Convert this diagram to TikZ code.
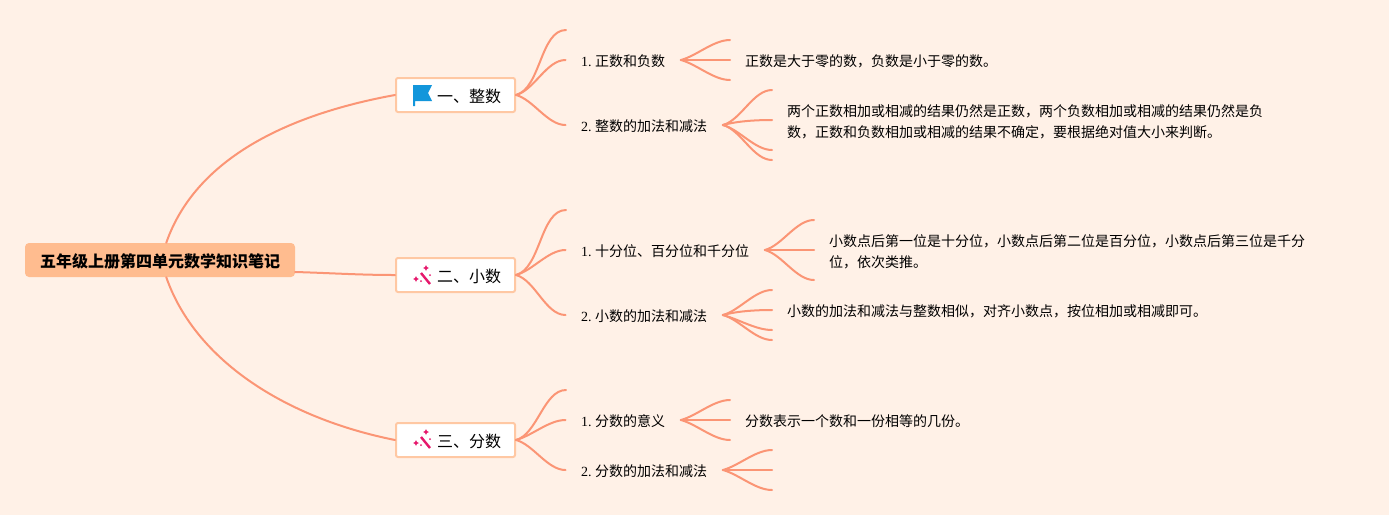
\documentclass[tikz,border=0pt]{standalone}
\usepackage{fontspec}
\setmainfont{Liberation Serif}
\newfontfamily\cjk{Noto Sans CJK SC}
\definecolor{paper}{HTML}{FFF1E7}
\definecolor{twig}{HTML}{FB9575}
\definecolor{rootfill}{HTML}{FFBC8F}
\definecolor{boxline}{HTML}{FFC8A3}
\definecolor{flagblue}{HTML}{1296DB}
\definecolor{wandpink}{HTML}{E6186C}
\tikzset{
	rootbox/.style={fill=rootfill,rounded corners=4pt,minimum width=270pt,minimum height=34pt,inner sep=0pt,text height=15pt,text depth=1pt,font=\cjk\fontsize{16}{20}\selectfont\bfseries},
	branchbox/.style={draw=boxline,line width=2pt,fill=white,rounded corners=2pt,minimum width=119pt,minimum height=34pt,inner sep=0pt,text height=15pt,text depth=1pt,font=\cjk\fontsize{16}{20}\selectfont},
	topic/.style={anchor=west,inner xsep=15.5pt,inner ysep=2pt,text height=14.5pt,text depth=1.5pt,font=\fontsize{14}{18}\selectfont},
	detail/.style={anchor=west,inner xsep=15pt,inner ysep=2pt,align=left,font=\cjk\fontsize{14}{21}\selectfont},
	limb/.style={draw=twig,line width=2pt,line cap=round},
	limbup/.style={out=15,in=180,looseness=0.8},
	limbdown/.style={out=-15,in=180,looseness=0.8},
	flagicon/.pic={\fill[flagblue] (-10,-10) -- (9,-10) -- (5,-2) -- (9,6) -- (-8,6) -- (-8,11) -- (-10,11) -- cycle;},
	wandicon/.pic={
		\draw[wandpink,line width=2.4pt] (-3,-3) -- (6,8);
		\fill[wandpink] (2,-11) -- (2.9,-9) -- (5,-8) -- (2.9,-7) -- (2,-5) -- (1.1,-7) -- (-1,-8) -- (1.1,-9) -- cycle;
		\fill[wandpink] (-8,0) -- (-7.1,2) -- (-5,3) -- (-7.1,4) -- (-8,6) -- (-8.9,4) -- (-11,3) -- (-8.9,2) -- cycle;
		\fill[wandpink] (6,-1) circle (1);
		\fill[wandpink] (-3,5) circle (1);
	}
}
\begin{document}
\begin{tikzpicture}[x=1pt,y=-1pt]
	\fill[paper] (0,0) rectangle (1389,515);
	\useasboundingbox (0,0) rectangle (1389,515);

	\node[rootbox] (root) at (160,260) {五年级上册第四单元数学知识笔记};

	\node[branchbox] (zheng) at (455.5,95) {\hspace{27pt}一、整数};
	\node[branchbox] (xiao) at (455.5,275) {\hspace{27pt}二、小数};
	\node[branchbox] (fen) at (455.5,440) {\hspace{27pt}三、分数};
	\pic at (423,95) {flagicon};
	\pic at (424,276) {wandicon};
	\pic at (424,440) {wandicon};

	\draw[limb] (root.70) .. controls (195,160) and (285,115) .. (zheng.west);
	\draw[limb] (root.east |- 0,272) .. controls (330,273) and (360,275) .. (xiao.west);
	\draw[limb] (root.-70) .. controls (195,360) and (285,418) .. (fen.west);

	% first branch
	\node[topic] (zheng1) at (565.5,60) {1.\hspace{3.5pt}{\cjk 正数和负数}};
	\node[topic] (zheng2) at (565.5,125) {2.\hspace{3.5pt}{\cjk 整数的加法和减法}};
	\node[detail] (zheng1d) at (730,61) {正数是大于零的数，负数是小于零的数。};
	\node[detail] (zheng2d) at (772,122) {两个正数相加或相减的结果仍然是正数，两个负数相加或相减的结果仍然是负\\数，正数和负数相加或相减的结果不确定，要根据绝对值大小来判断。};
	\coordinate (zheng0) at (566,30);
	\coordinate (zheng1a) at (730,40);
	\coordinate (zheng1b) at (730,80);
	\coordinate (zheng2a) at (772,90);
	\coordinate (zheng2b) at (772,150);
	\coordinate (zheng2c) at (772,160);
	\draw[limb] (zheng.east) to[limbup] (zheng0);
	\draw[limb] (zheng.east) to[limbup] (zheng1.west);
	\draw[limb] (zheng.east) to[limbdown] (zheng2.west);
	\draw[limb] (zheng1.east) to[limbup] (zheng1a);
	\draw[limb] (zheng1.east) -- ([yshift=1pt]zheng1d.west);
	\draw[limb] (zheng1.east) to[limbdown] (zheng1b);
	\draw[limb] (zheng2.east) to[limbup] (zheng2a);
	\draw[limb] (zheng2.east) to[limbup] ([yshift=2pt]zheng2d.west);
	\draw[limb] (zheng2.east) to[limbdown] (zheng2b);
	\draw[limb] (zheng2.east) to[limbdown] (zheng2c);

	% second branch
	\node[topic] (xiao1) at (565.5,250) {1.\hspace{3.5pt}{\cjk 十分位、百分位和千分位}};
	\node[topic] (xiao2) at (565.5,315) {2.\hspace{3.5pt}{\cjk 小数的加法和减法}};
	\node[detail] (xiao1d) at (814,252) {小数点后第一位是十分位，小数点后第二位是百分位，小数点后第三位是千分\\位，依次类推。};
	\node[detail] (xiao2d) at (772,311) {小数的加法和减法与整数相似，对齐小数点，按位相加或相减即可。};
	\coordinate (xiao0) at (566,210);
	\coordinate (xiao1a) at (814,220);
	\coordinate (xiao1b) at (814,280);
	\coordinate (xiao2a) at (772,290);
	\coordinate (xiao2b) at (772,330);
	\coordinate (xiao2c) at (772,340);
	\draw[limb] (xiao.east) to[limbup] (xiao0);
	\draw[limb] (xiao.east) to[limbup] (xiao1.west);
	\draw[limb] (xiao.east) to[limbdown] (xiao2.west);
	\draw[limb] (xiao1.east) to[limbup] (xiao1a);
	\draw[limb] (xiao1.east) -- ([yshift=2pt]xiao1d.west);
	\draw[limb] (xiao1.east) to[limbdown] (xiao1b);
	\draw[limb] (xiao2.east) to[limbup] (xiao2a);
	\draw[limb] (xiao2.east) to[limbup] ([yshift=1pt]xiao2d.west);
	\draw[limb] (xiao2.east) to[limbdown] (xiao2b);
	\draw[limb] (xiao2.east) to[limbdown] (xiao2c);

	% third branch
	\node[topic] (fen1) at (565.5,420) {1.\hspace{3.5pt}{\cjk 分数的意义}};
	\node[topic] (fen2) at (565.5,470) {2.\hspace{3.5pt}{\cjk 分数的加法和减法}};
	\node[detail] (fen1d) at (730,421) {分数表示一个数和一份相等的几份。};
	\coordinate (fen0) at (566,390);
	\coordinate (fen1a) at (730,400);
	\coordinate (fen1b) at (730,440);
	\coordinate (fen2a) at (772,450);
	\coordinate (fen2b) at (772,470);
	\coordinate (fen2c) at (772,490);
	\draw[limb] (fen.east) to[limbup] (fen0);
	\draw[limb] (fen.east) to[limbup] (fen1.west);
	\draw[limb] (fen.east) to[limbdown] (fen2.west);
	\draw[limb] (fen1.east) to[limbup] (fen1a);
	\draw[limb] (fen1.east) -- ([yshift=1pt]fen1d.west);
	\draw[limb] (fen1.east) to[limbdown] (fen1b);
	\draw[limb] (fen2.east) to[limbup] (fen2a);
	\draw[limb] (fen2.east) -- (fen2b);
	\draw[limb] (fen2.east) to[limbdown] (fen2c);
\end{tikzpicture}
\end{document}
